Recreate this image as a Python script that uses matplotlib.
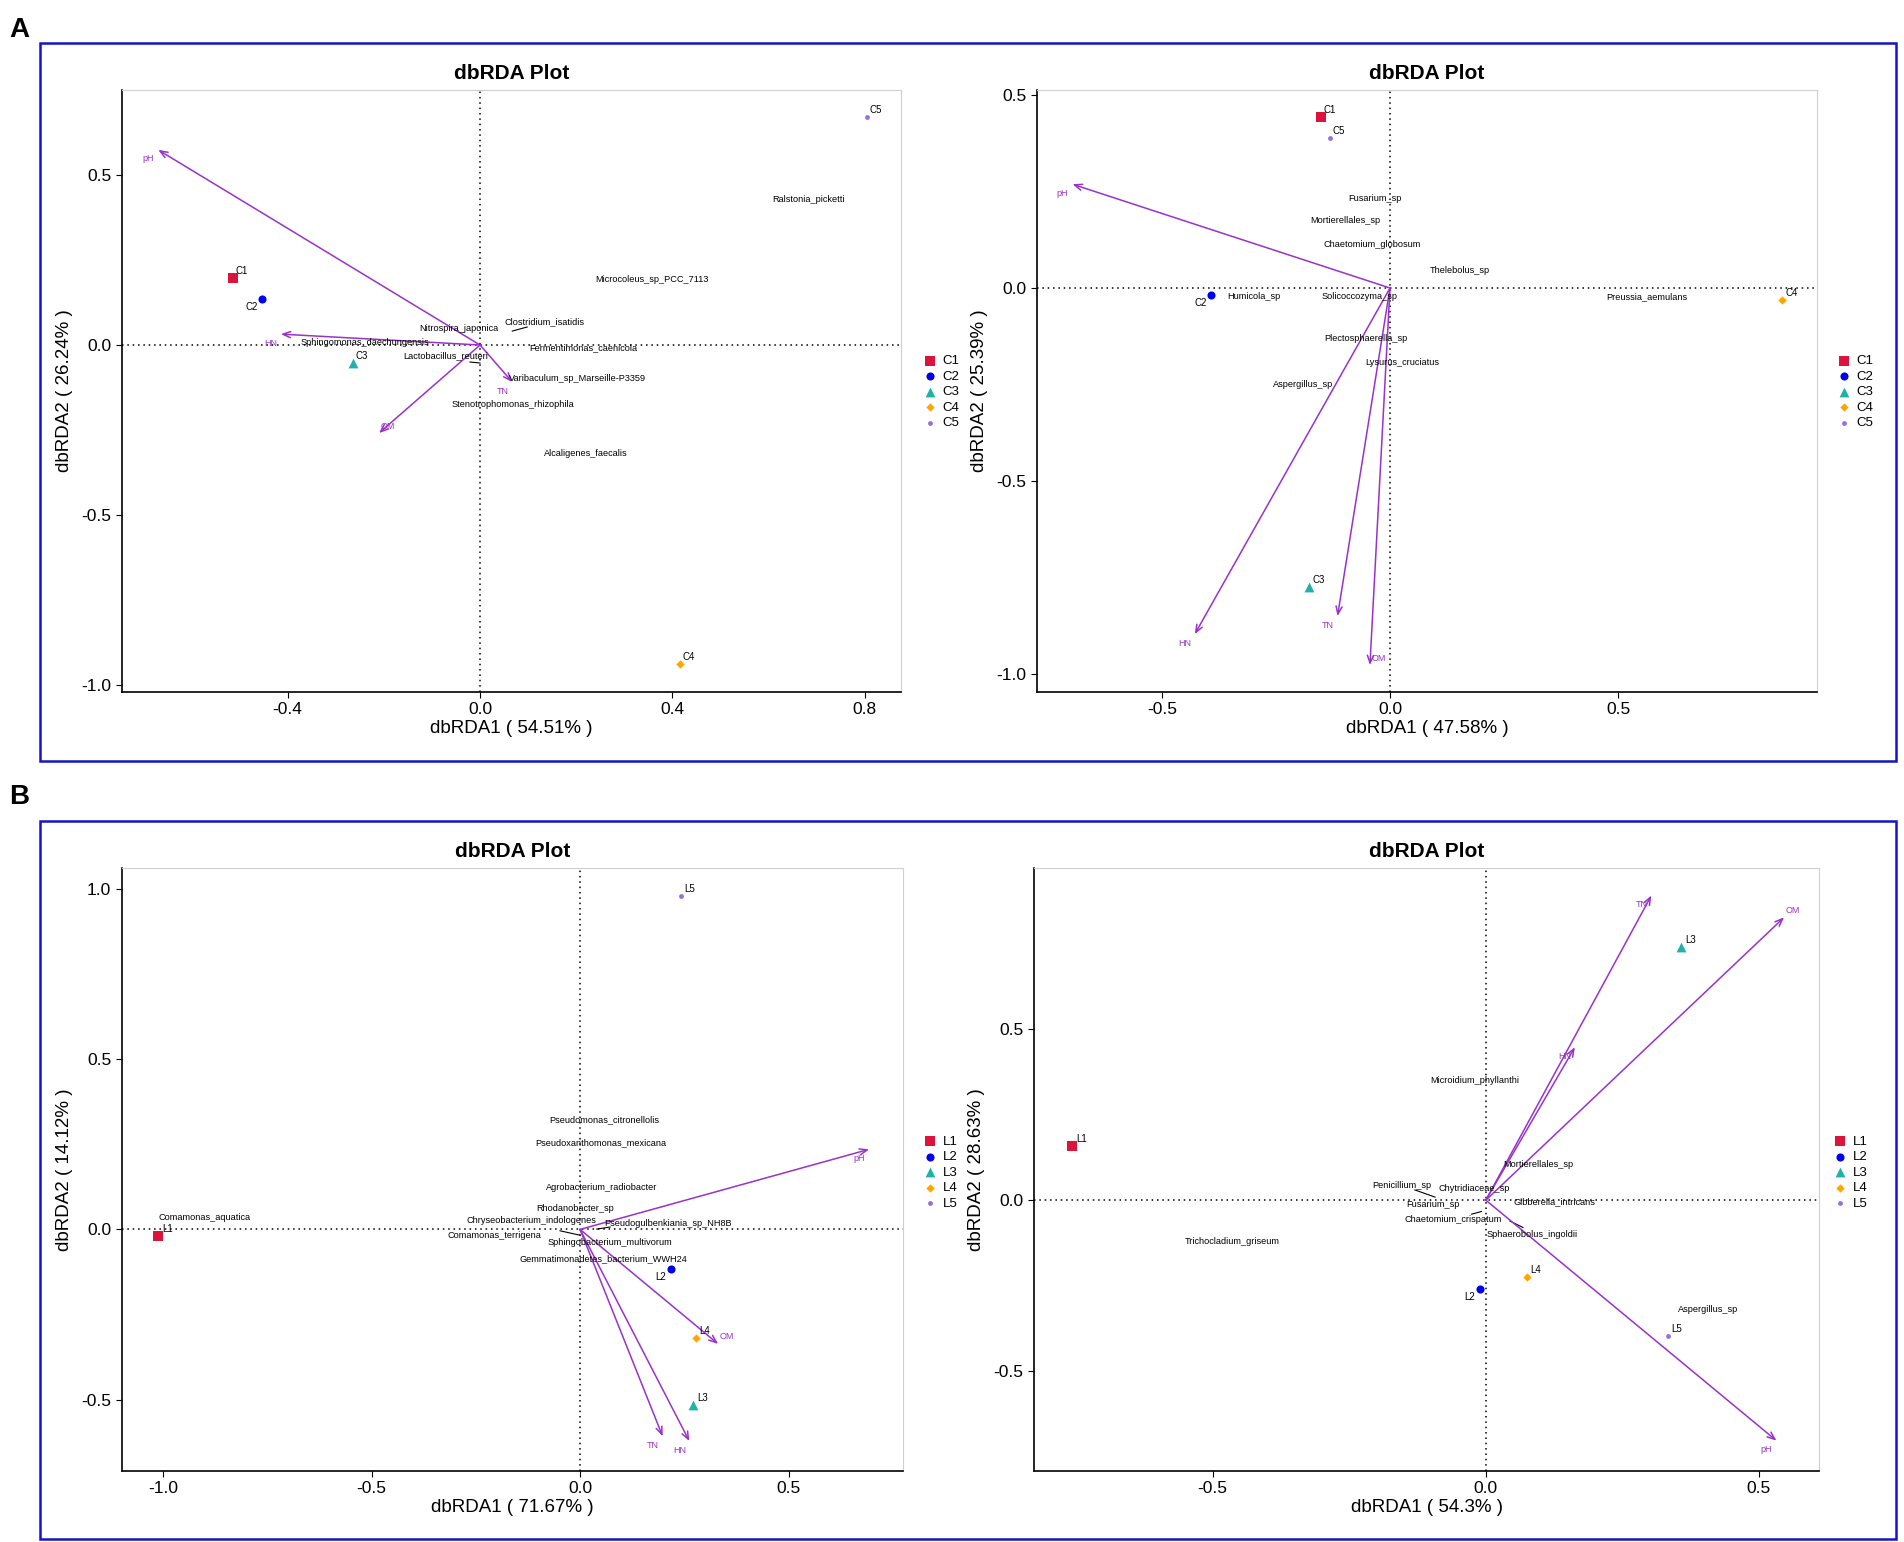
import matplotlib
matplotlib.use('Agg')
import matplotlib.pyplot as plt
from matplotlib.patches import Rectangle

plt.rcParams['font.family'] = ['Liberation Sans', 'DejaVu Sans']
plt.rcParams['axes.unicode_minus'] = False

# sample / environment names shared by the panels
sites_c = ['C1', 'C2', 'C3', 'C4', 'C5']
sites_l = ['L1', 'L2', 'L3', 'L4', 'L5']
env_names = ['pH', 'HN', 'TN', 'OM']

# ---- A left (bacteria, C) ----
a1_site_x = [-0.514, -0.453, -0.264, 0.416, 0.804]
a1_site_y = [0.197, 0.135, -0.053, -0.938, 0.672]
a1_env_x = [-0.669, -0.414, 0.067, -0.210]
a1_env_y = [0.574, 0.032, -0.109, -0.259]
a1_species = ['Ralstonia_picketti', 'Microcoleus_sp_PCC_7113', 'Clostridium_isatidis',
              'Nitrospira_japonica', 'Fermentimonas_caenicola', 'Lactobacillus_reuteri',
              'Varibaculum_sp_Marseille-P3359', 'Stenotrophomonas_rhizophila',
              'Alcaligenes_faecalis', 'Sphingomonas_daechungensis']
a1_sp_x = [0.682, 0.358, 0.135, -0.044, 0.214, -0.071, 0.202, 0.069, 0.220, -0.239]
a1_sp_y = [0.429, 0.194, 0.068, 0.050, -0.009, -0.032, -0.100, -0.176, -0.318, 0.006]
# label leader segments (x0, y0, x1, y1)
a1_seg = [(0.067, 0.041, 0.098, 0.053), (-0.021, -0.050, 0.0, -0.053)]
a1_pct = [54.51, 26.24]

# ---- A right (fungi, C) ----
a2_site_x = [-0.152, -0.393, -0.177, 0.860, -0.132]
a2_site_y = [0.443, -0.019, -0.776, -0.031, 0.389]
a2_env_x = [-0.696, -0.428, -0.115, -0.044]
a2_env_y = [0.269, -0.897, -0.850, -0.977]
a2_species = ['Fusarium_sp', 'Mortierellales_sp', 'Chaetomium_globosum', 'Thelebolus_sp',
              'Humicola_sp', 'Solicoccozyma_sp', 'Preussia_aemulans',
              'Plectosphaerella_sp', 'Lysurus_cruciatus', 'Aspergillus_sp']
a2_sp_x = [-0.033, -0.099, -0.038, 0.153, -0.298, -0.067, 0.562, -0.053, 0.026, -0.190]
a2_sp_y = [0.231, 0.174, 0.114, 0.045, -0.021, -0.021, -0.023, -0.130, -0.193, -0.250]
a2_seg = []
a2_pct = [47.58, 25.39]

# ---- B left (bacteria, L) ----
b1_site_x = [-1.011, 0.218, 0.272, 0.277, 0.242]
b1_site_y = [-0.020, -0.117, -0.515, -0.318, 0.978]
b1_env_x = [0.693, 0.262, 0.198, 0.331]
b1_env_y = [0.235, -0.621, -0.607, -0.336]
b1_species = ['Comamonas_aquatica', 'Pseudomonas_citronellolis', 'Pseudoxanthomonas_mexicana',
              'Agrobacterium_radiobacter', 'Rhodanobacter_sp', 'Chryseobacterium_indologenes',
              'Pseudogulbenkiania_sp_NH8B', 'Comamonas_terrigena',
              'Sphingobacterium_multivorum', 'Gemmatimonadetes_bacterium_WWH24']
b1_sp_x = [-0.900, 0.057, 0.050, 0.053, -0.012, -0.116, 0.211, -0.206, 0.072, 0.056]
b1_sp_y = [0.034, 0.323, 0.254, 0.122, 0.062, 0.026, 0.018, -0.017, -0.039, -0.085]
b1_seg = [(-0.048, -0.004, 0.0, -0.017), (0.040, 0.001, 0.072, 0.007)]
b1_pct = [71.67, 14.12]

# ---- B right (fungi, L) ----
b2_site_x = [-0.757, -0.011, 0.358, 0.075, 0.333]
b2_site_y = [0.158, -0.259, 0.741, -0.225, -0.399]
b2_env_x = [0.532, 0.163, 0.303, 0.546]
b2_env_y = [-0.704, 0.448, 0.892, 0.828]
b2_species = ['Microidium_phyllanthi', 'Mortierellales_sp', 'Penicillium_sp', 'Chytridiaceae_sp',
              'Gibberella_intricans', 'Fusarium_sp', 'Chaetomium_crispatum',
              'Sphaerobolus_ingoldii', 'Aspergillus_sp', 'Trichocladium_griseum']
b2_sp_x = [-0.020, 0.096, -0.153, -0.022, 0.125, -0.096, -0.060, 0.085, 0.406, -0.465]
b2_sp_y = [0.349, 0.105, 0.044, 0.035, -0.004, -0.014, -0.058, -0.100, -0.320, -0.120]
b2_seg = [(-0.130, 0.030, -0.093, 0.009), (-0.026, -0.041, -0.008, -0.033),
          (0.044, -0.061, 0.068, -0.080)]
b2_pct = [54.3, 28.63]

# marker style per sample position (1..5)
site_style = [dict(marker='s', color='#DC143C', s=42),
              dict(marker='o', color='#0000F0', s=34),
              dict(marker='^', color='#20B2AA', s=50),
              dict(marker='D', color='#FFA500', s=18),
              dict(marker='o', color='#9370DB', s=12)]
arrow_col = '#9932CC'


def fmt(v):
    return '%.1f' % v


def draw_panel(fig, rect, sites, sx, sy, ex, ey, sp, spx, spy, seg, pct,
               xlim, ylim, xticks, yticks, leg_xy):
    ax = fig.add_axes(rect)
    ax.set_xlim(xlim)
    ax.set_ylim(ylim)
    ax.axhline(0, color='black', lw=1.1, ls=(0, (1, 2.5)), zorder=1)
    ax.axvline(0, color='black', lw=1.1, ls=(0, (1, 2.5)), zorder=1)

    # environmental arrows
    for name, x, y in zip(env_names, ex, ey):
        ax.annotate('', xy=(x, y), xytext=(0, 0),
                    arrowprops=dict(arrowstyle='->,head_length=0.55,head_width=0.22',
                                    color=arrow_col, lw=1.1, shrinkA=0, shrinkB=0,
                                    mutation_scale=10), zorder=3)
        off = (9, 7) if name == 'OM' else (-10, -9)
        ax.annotate(name, (x, y), xytext=off, textcoords='offset pixels',
                    ha='center', va='center', fontsize=6.5, color=arrow_col)

    # species labels (with the few repel segments)
    for x0, y0, x1, y1 in seg:
        ax.plot([x0, x1], [y0, y1], color='black', lw=0.8, zorder=2)
    for name, x, y in zip(sp, spx, spy):
        ax.text(x, y, name, ha='center', va='center', fontsize=6.6, color='black', zorder=4)

    # samples
    for i, (name, x, y) in enumerate(zip(sites, sx, sy)):
        ax.scatter([x], [y], label=name, zorder=5, linewidths=0, **site_style[i])
        off = (-10, -8) if name.endswith('2') else (9, 7)
        ax.annotate(name, (x, y), xytext=off, textcoords='offset pixels',
                    ha='center', va='center', fontsize=7, color='black')

    ax.set_xticks(xticks)
    ax.set_yticks(yticks)
    ax.set_xticklabels([fmt(v) for v in xticks])
    ax.set_yticklabels([fmt(v) for v in yticks])
    ax.tick_params(labelsize=12.5, length=4, width=0.8, colors='black')
    ax.set_xlabel('dbRDA1 ( %s%% )' % pct[0], fontsize=13.5, labelpad=2)
    ax.set_ylabel('dbRDA2 ( %s%% )' % pct[1], fontsize=13.5, labelpad=6)
    ax.set_title('dbRDA Plot', fontsize=15, fontweight='bold', pad=8)
    for side in ['left', 'bottom']:
        ax.spines[side].set_color('black')
        ax.spines[side].set_linewidth(1.2)
    for side in ['top', 'right']:
        ax.spines[side].set_color('#D0D0D0')
        ax.spines[side].set_linewidth(0.8)

    ax.legend(loc='center left', bbox_to_anchor=leg_xy, bbox_transform=fig.transFigure,
              frameon=False, fontsize=9.5, handlelength=1.0, handletextpad=0.45,
              labelspacing=0.25, borderpad=0, borderaxespad=0, scatterpoints=1)
    return ax


fig = plt.figure(figsize=(19.04, 15.42), dpi=100)

draw_panel(fig, [0.0639, 0.5514, 0.4093, 0.3902], sites_c, a1_site_x, a1_site_y,
           a1_env_x, a1_env_y, a1_species, a1_sp_x, a1_sp_y, a1_seg, a1_pct,
           (-0.745, 0.875), (-1.02, 0.75), [-0.4, 0.0, 0.4, 0.8], [-1.0, -0.5, 0.0, 0.5],
           (0.4850, 0.7458))
draw_panel(fig, [0.5446, 0.5512, 0.4097, 0.3904], sites_c, a2_site_x, a2_site_y,
           a2_env_x, a2_env_y, a2_species, a2_sp_x, a2_sp_y, a2_seg, a2_pct,
           (-0.774, 0.936), (-1.047, 0.513), [-0.5, 0.0, 0.5], [-1.0, -0.5, 0.0, 0.5],
           (0.9650, 0.7458))
draw_panel(fig, [0.0639, 0.0460, 0.4103, 0.3910], sites_l, b1_site_x, b1_site_y,
           b1_env_x, b1_env_y, b1_species, b1_sp_x, b1_sp_y, b1_seg, b1_pct,
           (-1.099, 0.774), (-0.709, 1.06), [-1.0, -0.5, 0.0, 0.5], [-0.5, 0.0, 0.5, 1.0],
           (0.4850, 0.2396))
draw_panel(fig, [0.5431, 0.0460, 0.4123, 0.3910], sites_l, b2_site_x, b2_site_y,
           b2_env_x, b2_env_y, b2_species, b2_sp_x, b2_sp_y, b2_seg, b2_pct,
           (-0.827, 0.61), (-0.793, 0.972), [-0.5, 0.0, 0.5], [-0.5, 0.0, 0.5],
           (0.9630, 0.2396))

# blue frames and panel letters
for y0 in [0.5065, 0.0020]:
    fig.patches.append(Rectangle((0.021, y0), 0.9748, 0.4656, transform=fig.transFigure,
                                 fill=False, edgecolor='#1414C8', lw=1.8))
fig.text(0.005, 0.9805, 'A', fontsize=20, fontweight='bold', va='center', ha='left')
fig.text(0.005, 0.4831, 'B', fontsize=20, fontweight='bold', va='center', ha='left')

plt.savefig('out.png', dpi=100)
